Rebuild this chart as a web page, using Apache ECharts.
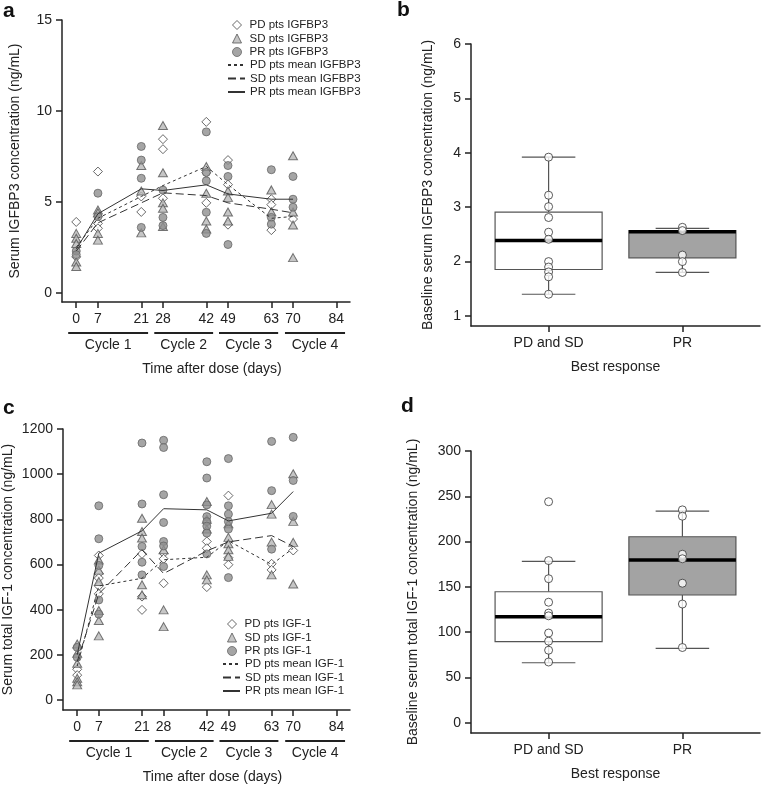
<!DOCTYPE html>
<html>
<head>
<meta charset="utf-8">
<script src="https://cdn.jsdelivr.net/npm/echarts@6/dist/echarts.min.js"></script>
<style>
  html, body { margin: 0; padding: 0; background: #fff; }
  #chart { width: 761px; height: 785px; }
</style>
</head>
<body>
<div id="chart"></div>
<script>
const days = [0, 7, 21, 28, 42, 49, 63, 70];
const dayTicks = [0, 7, 21, 28, 42, 49, 63, 70, 84];
const cycles = ['Cycle 1', 'Cycle 2', 'Cycle 3', 'Cycle 4'];
const cycleStart = [-2.6, 25.2, 46.1, 67.4];
const cycleEnd = [23.2, 44.2, 65.2, 86.8];
const responseGroups = ['PD and SD', 'PR'];

// panel a: IGFBP3 per visit day (ng/mL)
const pdIgfbp3 = [[3.9, 1.98], [6.67, 3.82, 3.55], [5.3, 4.45], [8.45, 7.9, 5.2], [9.4, 6.6, 4.95], [7.3, 5.95, 3.75], [5.15, 4.85, 3.45], [4.06]];
const sdIgfbp3 = [[3.27, 3.0, 2.72, 1.7, 1.45], [4.56, 4.4, 3.27, 2.9], [7.0, 5.6, 3.3], [9.2, 6.6, 4.95, 4.65, 3.65], [6.95, 5.48, 3.95, 3.51], [5.6, 5.25, 4.45, 3.95], [5.66, 4.46], [7.54, 4.45, 3.73, 1.94]];
const prIgfbp3 = [[2.3, 2.1], [5.48, 4.19], [8.05, 7.3, 6.3, 3.6], [5.65, 4.15, 3.7], [8.85, 6.62, 6.16, 4.43, 3.27], [7.0, 6.4, 2.66], [6.77, 4.15, 3.78], [6.4, 5.15, 4.71]];
const pdMeanIgfbp3 = [2.5, 4.1, 5.3, 5.9, 6.95, 5.95, 4.1, 4.2];
const sdMeanIgfbp3 = [2.3, 3.85, 4.95, 5.5, 5.35, 4.95, 4.6, 4.4];
const prMeanIgfbp3 = [2.4, 4.35, 5.72, 5.63, 5.94, 5.44, 5.15, 5.15];

// panel b: baseline IGFBP3 box stats [min, q1, median, q3, max] and points
const boxIgfbp3 = [[1.40, 1.855, 2.39, 2.91, 3.92], [1.80, 2.07, 2.55, 2.57, 2.61]];
const ptsIgfbp3PdSd = [3.92, 3.22, 3.01, 2.81, 2.54, 2.41, 2.0, 1.9, 1.81, 1.72, 1.40];
const ptsIgfbp3Pr = [2.63, 2.57, 2.12, 2.0, 1.80];

// panel c: total IGF-1 per visit day (ng/mL)
const pdIgf1 = [[136, 110], [640, 560, 540, 505, 470], [647, 458, 399], [650, 625, 517], [702, 672, 500], [905, 630, 599], [603, 576], [662]];
const sdIgf1 = [[248, 207, 163, 96, 81, 67], [620, 575, 525, 396, 352, 284], [805, 746, 717, 510, 466], [665, 399, 325], [879, 800, 757, 554, 532], [780, 720, 692, 665, 636], [865, 823, 699, 554], [1002, 791, 698, 514]];
const prIgf1 = [[233, 189], [860, 714, 596, 443, 380], [1138, 868, 680, 610, 554], [1150, 1118, 909, 786, 702, 682, 591], [1055, 983, 864, 812, 790, 770, 739, 647], [1069, 860, 823, 790, 757, 542], [1227, 1145, 927, 668], [1163, 972, 813]];
const pdMeanIgf1 = [150, 505, 539, 621, 632, 705, 600, 672];
const sdMeanIgf1 = [170, 470, 665, 560, 660, 700, 728, 680];
const prMeanIgf1 = [200, 650, 749, 847, 842, 793, 827, 923];

// panel d: baseline IGF-1 box stats and points
const boxIgf1 = [[66.2, 89.4, 117, 144.6, 178.1], [82.1, 141, 179.6, 205.3, 233.7]];
const ptsIgf1PdSd = [244, 179, 159, 133, 121, 118, 99, 90, 80, 67];
const ptsIgf1Pr = [235, 228, 186, 181, 154, 131, 83];

const font = 'Liberation Sans';
const ink = '#222';
const boxFill = ['#ffffff', '#a3a3a3'];

const toPairs = (lists) => {
  const out = [];
  lists.forEach((vals, i) => vals.forEach((v) => out.push([days[i], v])));
  return out;
};
const meanPairs = (vals) => vals.map((v, i) => [days[i], v]);

const axisLine = { onZero: false, lineStyle: { color: ink, width: 1.5 } };
const tick = (vals) => ({ length: 6, customValues: vals, lineStyle: { color: ink, width: 1.5 } });
const label = (vals, fmt) => ({
  customValues: vals, margin: 10, fontSize: 14, color: ink, fontFamily: font,
  formatter: fmt || ((v) => String(v)),
});
const nameStyle = { fontSize: 14, color: ink, fontFamily: font };

const timeAxis = (grid) => ({
  gridIndex: grid, type: 'value', min: -4.6, max: 88.4,
  axisLine, axisTick: tick(dayTicks), axisLabel: label(dayTicks),
  splitLine: { show: false },
  name: 'Time after dose (days)', nameLocation: 'middle', nameGap: 60,
  nameTextStyle: { ...nameStyle, padding: [0, 0, 0, 12] },
});
const groupAxis = (grid) => ({
  gridIndex: grid, type: 'value', min: 0.42, max: 2.58,
  axisLine, axisTick: tick([1, 2]), axisLabel: label([1, 2], (v) => responseGroups[Math.round(v) - 1]),
  splitLine: { show: false },
  name: 'Best response', nameLocation: 'middle', nameGap: 34, nameTextStyle: nameStyle,
});
const valueAxis = (grid, min, max, ticks, name, gap) => ({
  gridIndex: grid, type: 'value', min, max,
  axisLine, axisTick: tick(ticks), axisLabel: label(ticks),
  splitLine: { show: false },
  name, nameLocation: 'middle', nameGap: gap, nameTextStyle: nameStyle,
});

const markers = {
  pd: { symbol: 'diamond', symbolSize: 9, itemStyle: { color: '#fff', borderColor: '#444', borderWidth: 1 } },
  sd: { symbol: 'triangle', symbolSize: [9, 8], itemStyle: { color: '#b8b8b8', borderColor: '#555', borderWidth: 1 } },
  pr: { symbol: 'circle', symbolSize: 8, itemStyle: { color: '#8e8e8e', borderColor: '#666', borderWidth: 1 } },
};
const dashes = { pd: [3, 3], sd: [8, 4], pr: 'solid' };

const scatter = (name, grid, kind, lists) => ({
  name, type: 'scatter', xAxisIndex: grid, yAxisIndex: grid, data: toPairs(lists), z: 3,
  ...markers[kind],
});
const meanLine = (name, grid, kind, vals) => ({
  name, type: 'line', xAxisIndex: grid, yAxisIndex: grid, data: meanPairs(vals), symbol: 'none', z: 4,
  itemStyle: { color: 'rgba(0,0,0,0)' },
  lineStyle: { color: '#333', width: 1, type: dashes[kind] },
});

const cycleSeries = (grid) => ({
  type: 'custom', xAxisIndex: grid, yAxisIndex: grid, silent: true,
  data: cycles.map((c, i) => [cycleStart[i], cycleEnd[i]]),
  renderItem(params, api) {
    const s = api.coord([api.value(0), 0]);
    const e = api.coord([api.value(1), 0]);
    const base = params.coordSys.y + params.coordSys.height;
    return {
      type: 'group',
      children: [
        { type: 'line', shape: { x1: s[0], y1: base + 31, x2: e[0], y2: base + 31 }, style: { stroke: ink, lineWidth: 1.8 } },
        { type: 'text', style: { text: cycles[params.dataIndex], x: (s[0] + e[0]) / 2, y: base + 43, align: 'center', verticalAlign: 'middle', fontSize: 14, fontFamily: font, fill: ink } },
      ],
    };
  },
});

const boxSeries = (grid, stats) => ({
  type: 'custom', xAxisIndex: grid, yAxisIndex: grid, silent: true, z: 2,
  data: stats.map((s, i) => [i + 1, ...s]),
  renderItem(params, api) {
    const x = api.value(0);
    const p = [1, 2, 3, 4, 5].map((k) => api.coord([x, api.value(k)]));
    const bw = api.size([0.8, 0])[0];
    const cw = api.size([0.4, 0])[0];
    const cx = p[0][0];
    const w = { stroke: '#555', lineWidth: 1.2 };
    return {
      type: 'group',
      children: [
        { type: 'line', shape: { x1: cx, y1: p[0][1], x2: cx, y2: p[1][1] }, style: w },
        { type: 'line', shape: { x1: cx, y1: p[3][1], x2: cx, y2: p[4][1] }, style: w },
        { type: 'line', shape: { x1: cx - cw / 2, y1: p[0][1], x2: cx + cw / 2, y2: p[0][1] }, style: w },
        { type: 'line', shape: { x1: cx - cw / 2, y1: p[4][1], x2: cx + cw / 2, y2: p[4][1] }, style: w },
        { type: 'rect', shape: { x: cx - bw / 2, y: p[3][1], width: bw, height: p[1][1] - p[3][1] }, style: { fill: boxFill[params.dataIndex], stroke: '#555', lineWidth: 1.2 } },
        { type: 'line', shape: { x1: cx - bw / 2, y1: p[2][1], x2: cx + bw / 2, y2: p[2][1] }, style: { stroke: '#000', lineWidth: 3.5 } },
      ],
    };
  },
});
const boxPoints = (grid, group, vals) => ({
  type: 'scatter', xAxisIndex: grid, yAxisIndex: grid, z: 5,
  data: vals.map((v) => [group, v]), symbol: 'circle', symbolSize: 8,
  itemStyle: { color: '#fff', borderColor: '#333', borderWidth: 1 },
});

const panelLabel = (text, left, top) => ({
  text, left, top, padding: 0,
  textStyle: { fontSize: 21, fontWeight: 'bold', color: '#111', fontFamily: font },
});
// marker entries use a square icon box, line entries a wide one
const markerLegend = (left, top, names) => ({
  left, top, orient: 'vertical', padding: 0, itemWidth: 9, itemHeight: 9, itemGap: 1.5,
  data: names, selectedMode: false, itemStyle: { borderWidth: 1 },
  textStyle: { fontSize: 11.5, color: ink, fontFamily: font, padding: [0, 0, 0, 3] },
});
const lineLegend = (left, top, names) => ({
  left, top, orient: 'vertical', padding: 0, itemWidth: 17, itemHeight: 9, itemGap: 1.5,
  data: names, selectedMode: false,
  textStyle: { fontSize: 11.5, color: ink, fontFamily: font },
});

const chart = echarts.init(document.getElementById('chart'));
chart.setOption({
  animation: false,
  title: [panelLabel('a', 3, 1), panelLabel('b', 397, 0), panelLabel('c', 3, 398), panelLabel('d', 401, 396)],
  legend: [
    markerLegend(232, 19, ['PD pts IGFBP3', 'SD pts IGFBP3', 'PR pts IGFBP3']),
    lineLegend(227, 59, ['PD pts mean IGFBP3', 'SD pts mean IGFBP3', 'PR pts mean IGFBP3']),
    markerLegend(227, 618, ['PD pts IGF-1', 'SD pts IGF-1', 'PR pts IGF-1']),
    lineLegend(222, 658, ['PD pts mean IGF-1', 'SD pts mean IGF-1', 'PR pts mean IGF-1']),
  ],
  grid: [
    { left: 62, top: 20, width: 288, height: 282 },
    { left: 471, top: 44, width: 289, height: 282 },
    { left: 62, top: 429, width: 288, height: 281 },
    { left: 471, top: 451, width: 289, height: 282 },
  ],
  xAxis: [timeAxis(0), groupAxis(1), timeAxis(2), groupAxis(3)],
  yAxis: [
    valueAxis(0, -0.5, 15, [0, 5, 10, 15], 'Serum IGFBP3 concentration (ng/mL)', 40),
    valueAxis(1, 0.816, 6, [1, 2, 3, 4, 5, 6], 'Baseline serum IGFBP3 concentration (ng/mL)', 36),
    valueAxis(2, -44.3, 1200, [0, 200, 400, 600, 800, 1000, 1200], 'Serum total IGF-1 concentration (ng/mL)', 48),
    valueAxis(3, -11.4, 300, [0, 50, 100, 150, 200, 250, 300], 'Baseline serum total IGF-1 concentration (ng/mL)', 51),
  ],
  series: [
    scatter('PD pts IGFBP3', 0, 'pd', pdIgfbp3),
    scatter('SD pts IGFBP3', 0, 'sd', sdIgfbp3),
    scatter('PR pts IGFBP3', 0, 'pr', prIgfbp3),
    meanLine('PD pts mean IGFBP3', 0, 'pd', pdMeanIgfbp3),
    meanLine('SD pts mean IGFBP3', 0, 'sd', sdMeanIgfbp3),
    meanLine('PR pts mean IGFBP3', 0, 'pr', prMeanIgfbp3),
    cycleSeries(0),
    boxSeries(1, boxIgfbp3),
    boxPoints(1, 1, ptsIgfbp3PdSd),
    boxPoints(1, 2, ptsIgfbp3Pr),
    scatter('PD pts IGF-1', 2, 'pd', pdIgf1),
    scatter('SD pts IGF-1', 2, 'sd', sdIgf1),
    scatter('PR pts IGF-1', 2, 'pr', prIgf1),
    meanLine('PD pts mean IGF-1', 2, 'pd', pdMeanIgf1),
    meanLine('SD pts mean IGF-1', 2, 'sd', sdMeanIgf1),
    meanLine('PR pts mean IGF-1', 2, 'pr', prMeanIgf1),
    cycleSeries(2),
    boxSeries(3, boxIgf1),
    boxPoints(3, 1, ptsIgf1PdSd),
    boxPoints(3, 2, ptsIgf1Pr),
  ],
});

window.addEventListener('resize', function () {
  chart.resize();
});
</script>
</body>
</html>
